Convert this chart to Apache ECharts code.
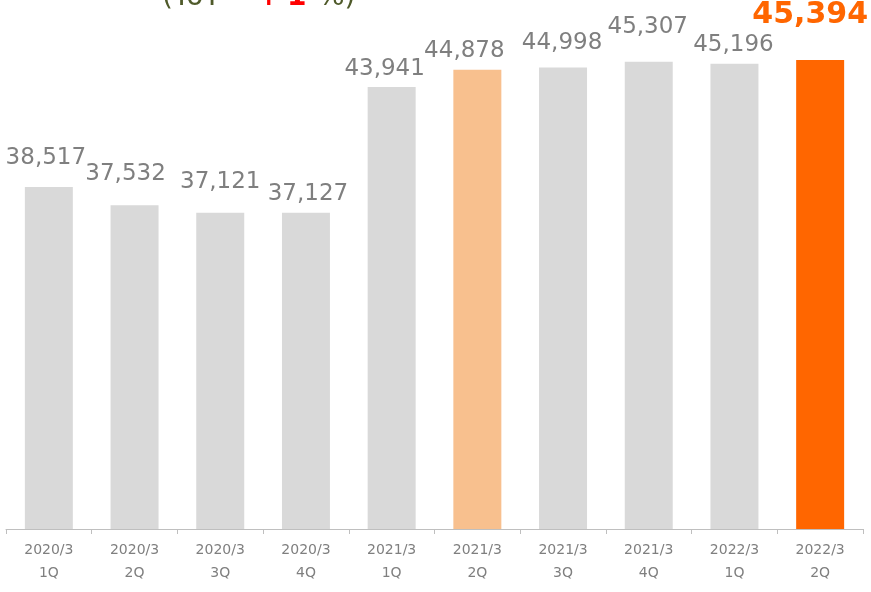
<!DOCTYPE html>
<html>
<head>
<meta charset="utf-8">
<script src="https://cdn.jsdelivr.net/npm/echarts@6/dist/echarts.min.js"></script>
<style>
  html, body { margin: 0; padding: 0; background: #fff; }
  #chart { width: 871px; height: 592px; }
</style>
</head>
<body>
<div id="chart"></div>
<script>
// 四半期ごとの値
const categories = ['2020/3\n1Q', '2020/3\n2Q', '2020/3\n3Q', '2020/3\n4Q', '2021/3\n1Q',
  '2021/3\n2Q', '2021/3\n3Q', '2021/3\n4Q', '2022/3\n1Q', '2022/3\n2Q']
const values = [38517, 37532, 37121, 37127, 43941, 44878, 44998, 45307, 45196, 45394]
// ラベルの微調整 (元資料で手動配置されている)
const labelOffsets = [[-3, -13], [-9, -15], [0, -14], [2, -2], [-7, -1],
  [-13, -2], [-1, -8], [-1, -18], [-1, -2], [-10, -25]]

const grey = '#d9d9d9'
const prevColor = '#f8c08e'
const curColor = '#ff6600'
const fmt = v => String(v).replace(/\B(?=(\d{3})+(?!\d))/g, ',')

let chart = echarts.init(document.getElementById('chart'))
let last = values.length - 1
// タイトル (上が切れている)
const titleStyle = { fill: '#4f5a2a', font: '28px "DejaVu Sans"', verticalAlign: 'bottom' }
chart.setOption({
  animation: false,
  grid: { left: 6, right: 8, top: 12, bottom: 63 },
  xAxis: {
    type: 'category',
    data: categories,
    axisLine: { lineStyle: { color: '#bfbfbf', width: 1 } },
    axisTick: { show: true, length: 5, lineStyle: { color: '#bfbfbf' } },
    axisLabel: {
      color: '#7f7f7f',
      fontFamily: 'DejaVu Sans',
      fontSize: 14,
      lineHeight: 23,
      margin: 10,
      interval: 0
    }
  },
  yAxis: {
    type: 'value',
    min: 20000,
    max: 48000,
    show: false,
    splitLine: { show: false }
  },
  graphic: [
    { type: 'text', x: 162, y: 12, style: Object.assign({ text: '(YoY' }, titleStyle) },
    { type: 'text', x: 257, y: 12, style: Object.assign({}, titleStyle, { text: '+', fill: '#ff0000', font: 'bold 28px "DejaVu Sans"' }) },
    { type: 'text', x: 287, y: 12, style: Object.assign({}, titleStyle, { text: '1', fill: '#ff0000', font: 'bold 28px "DejaVu Sans"' }) },
    { type: 'text', x: 318, y: 12, style: Object.assign({ text: '%)' }, titleStyle) }
  ],
  series: [
    {
      type: 'bar',
      barWidth: '56%',
      data: values.map((v, i) => ({
        value: v,
        itemStyle: { color: i === last ? curColor : (i === last - 4 ? prevColor : grey) },
        label: {
          offset: labelOffsets[i],
          color: i === last ? curColor : '#7f7f7f',
          fontSize: i === last ? 30 : 23,
          fontWeight: i === last ? 'bold' : 'normal'
        }
      })),
      label: {
        show: true,
        position: 'top',
        fontFamily: 'DejaVu Sans',
        formatter: p => fmt(p.value)
      }
    }
  ]
})
</script>
</body>
</html>
